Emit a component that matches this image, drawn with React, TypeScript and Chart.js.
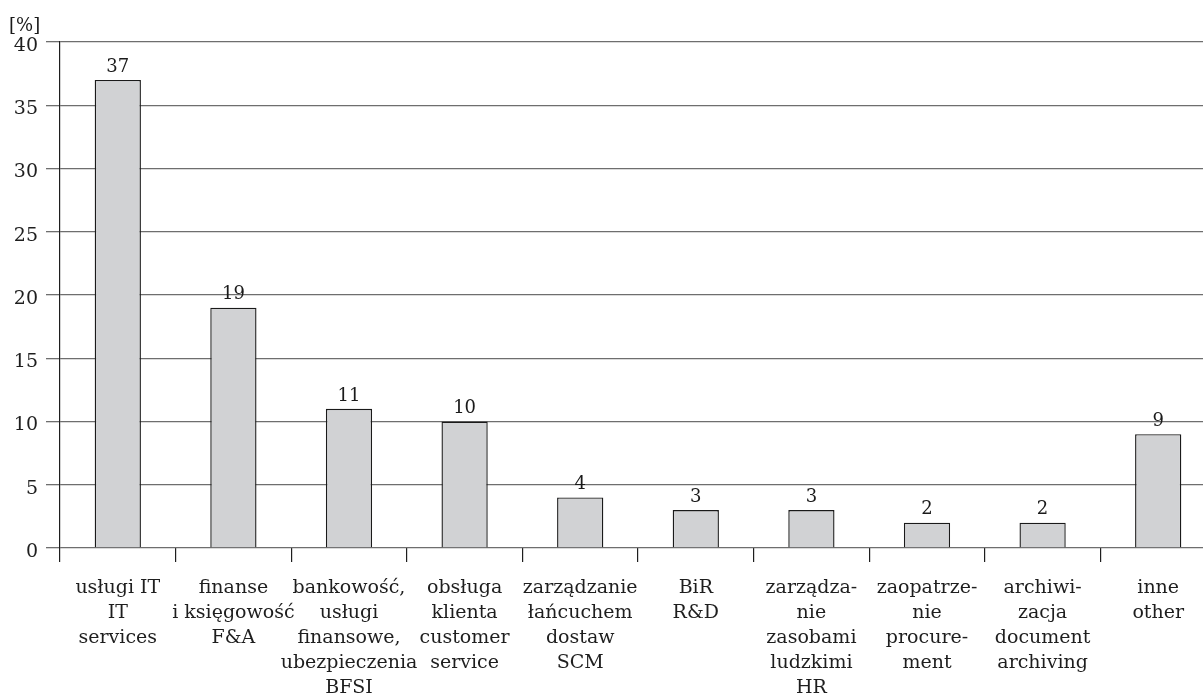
import React, { useEffect, useRef } from "react";
import { Chart, registerables } from "chart.js";

Chart.register(...registerables);

// Sector labels (Polish / English), one array entry per line
const categories: string[][] = [
  ["usługi IT", "IT", "services"],
  ["finanse", "i księgowość", "F&A"],
  ["bankowość,", "usługi", "finansowe,", "ubezpieczenia", "BFSI"],
  ["obsługa", "klienta", "customer", "service"],
  ["zarządzanie", "łańcuchem", "dostaw", "SCM"],
  ["BiR", "R&D"],
  ["zarządza-", "nie", "zasobami", "ludzkimi", "HR"],
  ["zaopatrze-", "nie", "procure-", "ment"],
  ["archiwi-", "zacja", "document", "archiving"],
  ["inne", "other"],
];

// Share of employment by service type [%]
const shares: number[] = [37, 19, 11, 10, 4, 3, 3, 2, 2, 9];

const yTicks: number[] = [0, 5, 10, 15, 20, 25, 30, 35, 40];
const unitLabel = "[%]";

const FONT = "'DejaVu Serif', 'Liberation Serif', serif";

export default function App() {
  const ref = useRef<HTMLCanvasElement | null>(null);

  useEffect(() => {
    document.body.style.margin = "0";
    const canvas = ref.current;
    if (!canvas) return;

    const valueLabels = {
      id: "valueLabels",
      afterDatasetsDraw(chart: any) {
        const ctx = chart.ctx;
        const meta = chart.getDatasetMeta(0);
        ctx.save();
        ctx.fillStyle = "#1a1a1a";
        ctx.font = `18px ${FONT}`;
        ctx.textAlign = "center";
        ctx.textBaseline = "bottom";
        meta.data.forEach((bar: any, i: number) => {
          ctx.fillText(String(shares[i]), bar.x, bar.y - 4);
        });
        // unit above the value axis
        ctx.textAlign = "left";
        ctx.textBaseline = "middle";
        ctx.fillText(unitLabel, 9, 26);
        ctx.restore();
      },
    };

    const chart = new Chart(canvas, {
      type: "bar",
      data: {
        labels: categories,
        datasets: [
          {
            data: shares,
            backgroundColor: "#d1d2d4",
            borderColor: "#1a1a1a",
            borderWidth: 1.4,
            barPercentage: 0.4,
            categoryPercentage: 1,
          },
        ],
      },
      options: {
        responsive: false,
        animation: false,
        layout: { padding: { top: 42, right: 0, left: 0, bottom: 0 } },
        plugins: {
          legend: { display: false },
          tooltip: { enabled: false },
        },
        scales: {
          x: {
            grid: {
              display: true,
              drawOnChartArea: false,
              drawTicks: true,
              tickLength: 14,
              color: "#1e1e1e",
              lineWidth: 1.2,
              offset: true,
            },
            border: { display: false },
            ticks: {
              color: "#1e1e1e",
              font: { family: FONT, size: 19, lineHeight: 25 / 19 },
              padding: 14,
              maxRotation: 0,
              minRotation: 0,
              autoSkip: false,
            },
            afterFit(scale: any) {
              scale.height = 147;
            },
          },
          y: {
            min: 0,
            max: 40,
            afterBuildTicks(scale: any) {
              scale.ticks = yTicks.map((v) => ({ value: v }));
            },
            grid: {
              color: "#6e6e6e",
              lineWidth: 1.3,
              tickLength: 14,
              drawTicks: true,
            },
            border: { display: true, color: "#1e1e1e", width: 1.2 },
            ticks: {
              color: "#1e1e1e",
              font: { family: FONT, size: 19 },
              padding: 8,
              labelOffset: 4,
            },
            afterFit(scale: any) {
              scale.width = 60;
            },
          },
        },
      },
      plugins: [valueLabels],
    });

    return () => chart.destroy();
  }, []);

  return (
    <div style={{ width: 1203, height: 695, overflow: "hidden", position: "relative" }}>
      <canvas ref={ref} width={1216} height={695} style={{ display: "block" }} />
    </div>
  );
}
